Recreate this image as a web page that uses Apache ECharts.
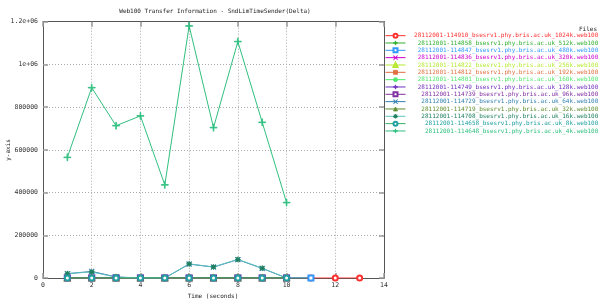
<!DOCTYPE html>
<html>
<head>
<meta charset="utf-8">
<script src="https://cdn.jsdelivr.net/npm/echarts@6/dist/echarts.min.js"></script>
<style>html,body{margin:0;padding:0;background:#fff}#c{width:600px;height:300px}</style>
</head>
<body>
<div id="c"></div>
<script>
const times = [1,2,3,4,5,6,7,8,9,10,11,12,13];
const seriesNames = [
  "28112001-114910_bsesrv1.phy.bris.ac.uk_1024k.web100",
  "28112001-114858_bsesrv1.phy.bris.ac.uk_512k.web100",
  "28112001-114847_bsesrv1.phy.bris.ac.uk_480k.web100",
  "28112001-114836_bsesrv1.phy.bris.ac.uk_320k.web100",
  "28112001-114822_bsesrv1.phy.bris.ac.uk_256k.web100",
  "28112001-114812_bsesrv1.phy.bris.ac.uk_192k.web100",
  "28112001-114801_bsesrv1.phy.bris.ac.uk_160k.web100",
  "28112001-114749_bsesrv1.phy.bris.ac.uk_128k.web100",
  "28112001-114739_bsesrv1.phy.bris.ac.uk_96k.web100",
  "28112001-114729_bsesrv1.phy.bris.ac.uk_64k.web100",
  "28112001-114719_bsesrv1.phy.bris.ac.uk_32k.web100",
  "28112001-114708_bsesrv1.phy.bris.ac.uk_16k.web100",
  "28112001-114658_bsesrv1.phy.bris.ac.uk_8k.web100",
  "28112001-114648_bsesrv1.phy.bris.ac.uk_4k.web100"
];
const v1024k = [0,0,0,0,0,0,0,0,0,0,0,0,0];
const v512k  = [0,0,0,0,0,0,0,0,0,0,0];
const v480k  = [0,0,0,0,0,0,0,0,0,0,0];
const v320k  = [0,0,0,0,0,0,0,0,0,0];
const v256k  = [0,0,0,0,0,0,0,0,0,0];
const v192k  = [0,0,0,0,0,0,0,0,0,0];
const v160k  = [0,0,0,0,0,0,0,0,0,0];
const v128k  = [0,0,0,0,0,0,0,0,0,0];
const v96k   = [0,0,0,0,0,0,0,0,0,0];
const v64k   = [20000,31000,5000,0,0,65000,51000,86000,45000,0];
const v32k   = [0,0,0,0,0,0,0,0,0,0];
const v16k   = [21000,28000,4000,0,0,66000,52000,87000,46000,0];
const v8k    = [0,0,0,0,0,0,0,0,0,0];
const v4k    = [565000,891000,713000,759000,436000,1180000,704000,1107000,729000,353000];
const yTickLabels = {1200000:'1.2e+06', 1000000:'1e+06'};

const allValues = [v1024k,v512k,v480k,v320k,v256k,v192k,v160k,v128k,v96k,v64k,v32k,v16k,v8k,v4k];
const colors = ['#ff3030','#30b030','#3399ff','#cc00cc','#b8e830','#e07040','#50e870','#7030c0','#8030a0','#3080b0','#609030','#208060','#20a0a0','#30c080'];
const lineColors = colors.slice();
lineColors[11] = '#60c0c0';
lineColors[12] = '#30b060';
const PLUS = 'path://M4.5,0H5.5V4.5H10V5.5H5.5V10H4.5V5.5H0V4.5H4.5Z';
const CROSS = 'path://M0.7,0L5,4.3L9.3,0L10,0.7L5.7,5L10,9.3L9.3,10L5,5.7L0.7,10L0,9.3L4.3,5L0,0.7Z';
const STAR = 'path://M4.5,0H5.5V4.5H10V5.5H5.5V10H4.5V5.5H0V4.5H4.5ZM1,1.7L1.7,1L9,8.3L8.3,9ZM8.3,1L9,1.7L1.7,9L1,8.3Z';
const symbols = ['emptyCircle',PLUS,'emptyRect',CROSS,'emptyTriangle','rect','circle',PLUS,'emptyRect',CROSS,'triangle',STAR,'emptyCircle',PLUS];
const mono = 'DejaVu Sans Mono';

const series = allValues.map((vals,i)=>({
  name: seriesNames[i],
  type: 'line',
  data: vals.map((v,j)=>[times[j], v]),
  symbol: symbols[i],
  symbolSize: i === 13 ? 7 : 5,
  showSymbol: true,
  animation: false,
  lineStyle: {color: lineColors[i], width: 1},
  itemStyle: {color: colors[i], borderColor: colors[i], borderWidth: 0.8}
}));

const axisCommon = {
  axisLine: {show:true, onZero:false, lineStyle:{color:'#555', width:1}},
  axisTick: {show:true, inside:true, length:5, lineStyle:{color:'#999', width:1.5}},
};

const chart = echarts.init(document.getElementById('c'), null, {renderer:'canvas'});
chart.setOption({
  animation: false,
  backgroundColor: '#fff',
  grid: {left:43, right:216, top:21.7, bottom:22, containLabel:false},
  xAxis: [
    Object.assign({type:'value', min:0, max:14, interval:2, position:'bottom',
      axisLabel:{color:'#333', fontFamily:mono, fontSize:6.5, margin:4},
      splitLine:{show:true, lineStyle:{color:'#aaa', type:[1,2], width:1}}}, axisCommon),
    Object.assign({type:'value', min:0, max:14, interval:2, position:'top',
      axisLabel:{show:false}, splitLine:{show:false}}, axisCommon)
  ],
  yAxis: [
    Object.assign({type:'value', min:0, max:1200000, interval:200000, position:'left',
      axisLabel:{color:'#333', fontFamily:mono, fontSize:6.5, margin:5,
        formatter: v => yTickLabels[v] || String(v)},
      splitLine:{show:true, lineStyle:{color:'#aaa', type:[1,2], width:1}}}, axisCommon),
    Object.assign({type:'value', min:0, max:1200000, interval:200000, position:'right',
      axisLabel:{show:false}, splitLine:{show:false}}, axisCommon)
  ],
  legend: {
    orient: 'vertical',
    left: 385, top: 32,
    itemWidth: 20, itemHeight: 5, itemGap: 0,
    selectedMode: false,
    padding: 0,
    lineStyle: {width: 1},
    itemStyle: {borderWidth: 0.8},
    textStyle: {fontFamily: mono, fontSize: 6, lineHeight: 7.33, padding: 0},
    formatter: name => name.padStart(52, '\u00a0'),
    data: seriesNames.map((n,i)=>({name:n, textStyle:{color:colors[i]}}))
  },
  graphic: [
    {type:'text', x: 215, y: 11, style:{text:'Web100 Transfer Information - SndLimTimeSender(Delta)', font:'6px "DejaVu Sans Mono"', fill:'#222', align:'center', verticalAlign:'middle'}},
    {type:'text', x: 597, y: 29, style:{text:'Files', font:'6px "DejaVu Sans Mono"', fill:'#222', align:'right', verticalAlign:'middle'}},
    {type:'text', x: 213, y: 296, style:{text:'Time (seconds)', font:'6px "DejaVu Sans Mono"', fill:'#222', align:'center', verticalAlign:'middle'}},
    {type:'text', x: 8, y: 150, rotation: Math.PI/2, style:{text:'y-axis', font:'6px "DejaVu Sans Mono"', fill:'#222', align:'center', verticalAlign:'middle'}}
  ],
  series: series
});
</script>
</body>
</html>
